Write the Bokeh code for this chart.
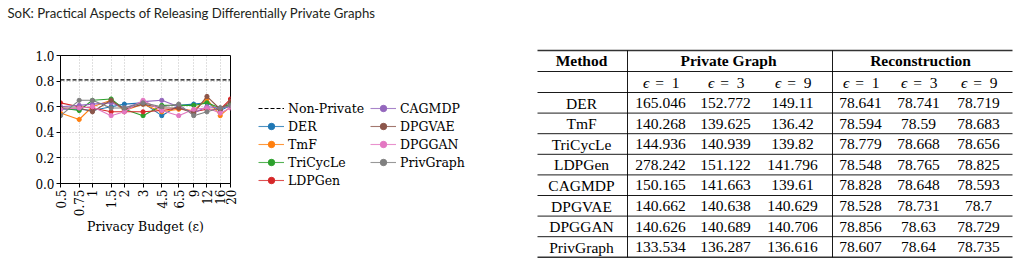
import math
from bokeh.plotting import figure
from bokeh.layouts import row, column
from bokeh.models import (Range1d, FixedTicker, Legend, LegendItem,
                          ColumnDataSource, PrintfTickFormatter)
from bokeh.core.properties import value
from bokeh.embed import file_html
from bokeh.resources import INLINE

# ---------------- data ----------------
title_text = "SoK: Practical Aspects of Releasing Differentially Private Graphs"

eps = [0.5, 0.75, 1, 1.5, 2, 3, 4.5, 6.5, 9, 12, 16, 20]
eps_labels = ["0.5", "0.75", "1", "1.5", "2", "3", "4.5", "6.5", "9", "12", "16", "20"]
y_ticks = [0.0, 0.2, 0.4, 0.6, 0.8, 1.0]
non_private = 0.81

series_names = ["DER", "TmF", "TriCycLe", "LDPGen", "CAGMDP", "DPGVAE", "DPGGAN", "PrivGraph"]
der = [0.58, 0.58, 0.57, 0.60, 0.62, 0.63, 0.53, 0.61, 0.62, 0.63, 0.57, 0.61]
tmf = [0.55, 0.50, 0.60, 0.65, 0.57, 0.62, 0.56, 0.58, 0.57, 0.66, 0.53, 0.60]
tricycle = [0.59, 0.57, 0.65, 0.66, 0.58, 0.53, 0.61, 0.61, 0.61, 0.63, 0.59, 0.62]
ldpgen = [0.63, 0.60, 0.59, 0.56, 0.56, 0.56, 0.57, 0.59, 0.56, 0.58, 0.58, 0.66]
cagmdp = [0.60, 0.61, 0.62, 0.63, 0.59, 0.64, 0.65, 0.60, 0.55, 0.60, 0.59, 0.60]
dpgvae = [0.59, 0.59, 0.56, 0.65, 0.58, 0.62, 0.59, 0.59, 0.55, 0.68, 0.58, 0.64]
dpggan = [0.58, 0.59, 0.60, 0.53, 0.56, 0.65, 0.57, 0.53, 0.58, 0.59, 0.55, 0.59]
privgraph = [0.53, 0.65, 0.65, 0.59, 0.59, 0.63, 0.60, 0.62, 0.53, 0.56, 0.59, 0.61]
series_values = [der, tmf, tricycle, ldpgen, cagmdp, dpgvae, dpggan, privgraph]
colors = ["#1f77b4", "#ff7f0e", "#2ca02c", "#d62728", "#9467bd", "#8c564b", "#e377c2", "#7f7f7f"]

# table
table_methods = ["DER", "TmF", "TriCycLe", "LDPGen", "CAGMDP", "DPGVAE", "DPGGAN", "PrivGraph"]
table_groups = ["Private Graph", "Reconstruction"]
table_eps = [1, 3, 9, 1, 3, 9]
pg_e1 = [165.046, 140.268, 144.936, 278.242, 150.165, 140.662, 140.626, 133.534]
pg_e3 = [152.772, 139.625, 140.939, 151.122, 141.663, 140.638, 140.689, 136.287]
pg_e9 = [149.11, 136.42, 139.82, 141.796, 139.61, 140.629, 140.706, 136.616]
rec_e1 = [78.641, 78.594, 78.779, 78.548, 78.828, 78.528, 78.856, 78.607]
rec_e3 = [78.741, 78.59, 78.668, 78.765, 78.648, 78.731, 78.63, 78.64]
rec_e9 = [78.719, 78.683, 78.656, 78.825, 78.593, 78.7, 78.729, 78.735]
table_cols = [pg_e1, pg_e3, pg_e9, rec_e1, rec_e3, rec_e9]

SERIF = "DejaVu Serif"
TITLE_H = 28
MAIN_H = 263 - TITLE_H


def blank(width, height, xr, yr):
    f = figure(width=width, height=height, x_range=xr, y_range=yr,
               output_backend="svg", toolbar_location=None, min_border=0,
               x_axis_location=None, y_axis_location=None)
    f.grid.visible = False
    f.outline_line_color = None
    f.background_fill_color = "white"
    f.border_fill_color = "white"
    f.frame_align = False
    return f


# ---------------- title ----------------
tf = blank(1019, TITLE_H, Range1d(0, 1019), Range1d(TITLE_H, 0))
tf.text(x=[7], y=[12.5], text=[title_text], text_baseline="middle",
        text_font=value("Lato"), text_font_size="13.2px", text_color="#231f20")

# ---------------- line chart ----------------
p = figure(width=250, height=MAIN_H, x_axis_type="log",
           x_range=Range1d(0.5, 20), y_range=Range1d(0, 1),
           output_backend="svg", toolbar_location=None,
           min_border_left=60, min_border_right=20,
           min_border_top=55 - TITLE_H, min_border_bottom=80)
p.frame_align = False
p.background_fill_color = "white"
p.border_fill_color = "white"
p.outline_line_color = "black"
p.outline_line_width = 1
p.outline_line_alpha = 1

p.xaxis.ticker = FixedTicker(ticks=eps)
p.xaxis.major_label_overrides = {e: lab for e, lab in zip(eps, eps_labels)}
p.xaxis.major_label_orientation = math.pi / 2
p.yaxis.ticker = FixedTicker(ticks=y_ticks)
p.yaxis.formatter = PrintfTickFormatter(format="%.1f")

for ax in (p.xaxis, p.yaxis):
    ax.axis_line_color = "black"
    ax.major_tick_line_color = "black"
    ax.minor_tick_line_color = None
    ax.major_tick_in = 0
    ax.major_tick_out = 4
    ax.major_label_standoff = 2
    ax.major_label_text_font = SERIF
    ax.major_label_text_font_size = "12px"
    ax.major_label_text_color = "black"

p.xaxis.axis_label = "Privacy Budget (\u03b5)"
p.xaxis.axis_label_text_font = SERIF
p.xaxis.axis_label_text_font_size = "12.5px"
p.xaxis.axis_label_text_font_style = "normal"
p.xaxis.axis_label_text_color = "black"
p.xaxis.axis_label_standoff = 0

for g in (p.xgrid, p.ygrid):
    g.grid_line_color = "#b0b0b0"
    g.grid_line_dash = "1 2"
    g.grid_line_width = 0.8

p.line(eps, [non_private] * len(eps), line_color="black",
       line_dash="4 2", line_width=1.2)
for name, vals, c in zip(series_names, series_values, colors):
    src = ColumnDataSource(dict(x=eps, y=vals))
    p.line("x", "y", source=src, line_color=c, line_width=1.1)
    p.scatter("x", "y", source=src, size=4.2, fill_color=c, line_color=c)

# ---------------- legend panel ----------------
LEG_W = 270
lf = blank(LEG_W, MAIN_H, Range1d(0, 1), Range1d(10, 11))  # proxies fall outside view
np_proxy = lf.line(eps, [non_private] * len(eps), line_color="black",
                   line_dash="4 2", line_width=1.2)
items1 = [LegendItem(label="Non-Private", renderers=[np_proxy])]
items2 = []
for i, (name, vals, c) in enumerate(zip(series_names, series_values, colors)):
    src = ColumnDataSource(dict(x=eps, y=vals))
    lr = lf.line("x", "y", source=src, line_color=c, line_width=1.1, line_alpha=0.8)
    sr = lf.scatter("x", "y", source=src, size=4, fill_color=c, line_color=c)
    (items1 if i < 4 else items2).append(LegendItem(label=name, renderers=[lr, sr]))


def mk_legend(items, loc):
    return Legend(items=items, location=loc, margin=0, padding=0,
                  background_fill_alpha=0, border_line_alpha=0,
                  glyph_width=26, glyph_height=16, label_height=16,
                  label_standoff=4, spacing=2, label_width=20,
                  label_text_font=SERIF, label_text_font_size="12.5px",
                  label_text_color="black")


leg_top = 100 - TITLE_H
lf.add_layout(mk_legend(items1, (258 - 250, MAIN_H - leg_top - (5 * 16 + 4 * 2))))
lf.add_layout(mk_legend(items2, (370 - 250, MAIN_H - leg_top - (4 * 16 + 3 * 2))))

# ---------------- table ----------------
t = blank(499, MAIN_H, Range1d(520, 1019), Range1d(263, TITLE_H))

TF = value("Liberation Serif")
FS = "15.5px"
method_x = 581
col_x = [660, 725, 792, 860, 918, 978]
group_x = [728, 920]
head_y = 60
sub_y = 82
row_y0 = 102.5
row_h = 20.6
top_rule, head_rule, sub_rule = 50, 71, 92
bottom_rule = sub_rule + row_h * len(table_methods)
left_x, right_x = 537, 1012
vlines = [627, 832]

t.text(x=[method_x] + group_x, y=[head_y] * 3,
       text=["Method"] + table_groups, text_align="center",
       text_baseline="middle", text_font=TF, text_font_size=FS,
       text_font_style="bold", text_color="black")
# epsilon sub-header: italic symbol, upright "=  n"
t.text(x=[cx - 14.5 for cx in col_x], y=[sub_y] * len(col_x), text=["\u03f5"] * len(col_x),
       text_align="center", text_baseline="middle", text_font=TF, text_font_size=FS,
       text_font_style="italic", text_color="black")
t.text(x=[cx - 1 for cx in col_x], y=[sub_y] * len(col_x), text=["="] * len(col_x),
       text_align="center", text_baseline="middle", text_font=TF, text_font_size=FS,
       text_color="black")
t.text(x=[cx + 15 for cx in col_x], y=[sub_y] * len(col_x),
       text=[str(e) for e in table_eps], text_align="center",
       text_baseline="middle", text_font=TF, text_font_size=FS, text_color="black")

rows_y = [row_y0 + i * row_h for i in range(len(table_methods))]
t.text(x=[method_x] * len(table_methods), y=rows_y, text=table_methods,
       text_align="center", text_baseline="middle", text_font=TF,
       text_font_size=FS, text_color="black")
xs, ys, txt = [], [], []
for cx, colvals in zip(col_x, table_cols):
    for ry, v in zip(rows_y, colvals):
        xs.append(cx); ys.append(ry); txt.append(str(v))
t.text(x=xs, y=ys, text=txt, text_align="center", text_baseline="middle",
       text_font=TF, text_font_size=FS, text_color="black")

t.segment(x0=[left_x, left_x], y0=[top_rule, bottom_rule],
          x1=[right_x, right_x], y1=[top_rule, bottom_rule],
          line_color="#333333", line_width=1.6)
inner = [head_rule, sub_rule] + [sub_rule + row_h * i for i in range(1, len(table_methods))]
t.segment(x0=[left_x] * len(inner), y0=inner, x1=[right_x] * len(inner), y1=inner,
          line_color="black", line_width=0.9)
t.segment(x0=vlines, y0=[top_rule] * 2, x1=vlines, y1=[bottom_rule] * 2,
          line_color="black", line_width=0.9)

layout = column(tf, row(p, lf, t, spacing=0), spacing=0)
open("out.html", "w").write(file_html(layout, INLINE))
